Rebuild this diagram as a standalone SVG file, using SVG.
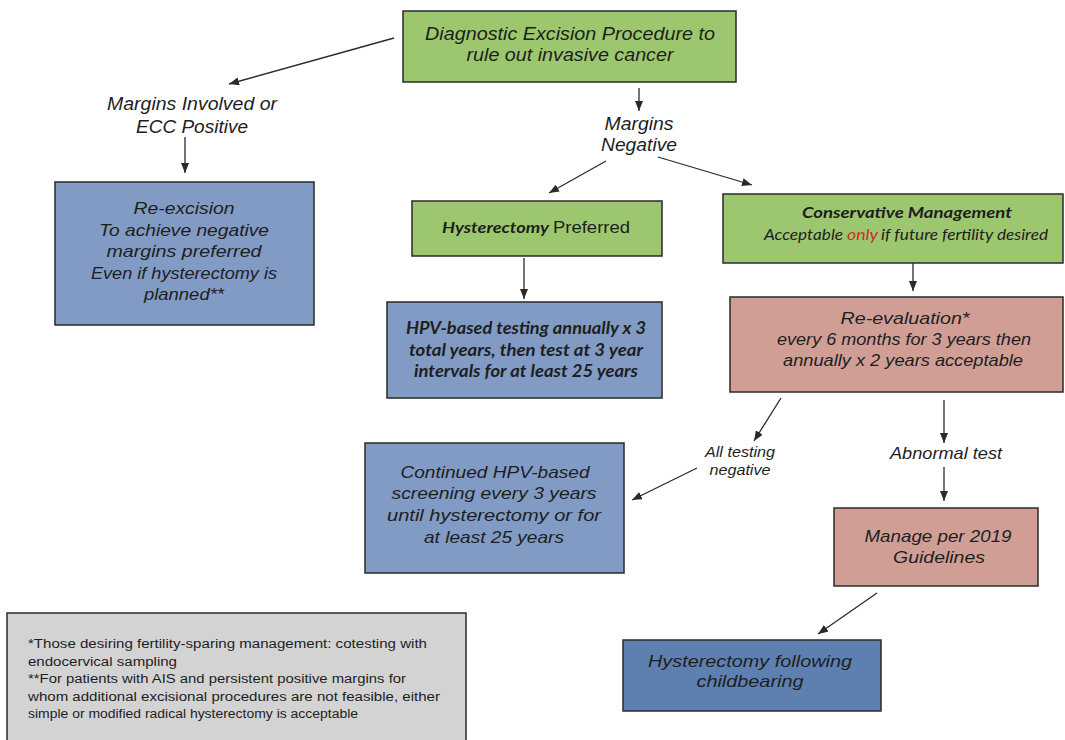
<svg xmlns="http://www.w3.org/2000/svg" width="1065" height="740" viewBox="0 0 1065 740">
<defs>
<marker id="ah" markerUnits="userSpaceOnUse" markerWidth="10" markerHeight="8" refX="10" refY="4" orient="auto">
<path d="M0,0 L10,4 L0,8 z" fill="#2a2a2a"/>
</marker>
<style>
.box{stroke:#2a2a2a;stroke-width:1.5}
.green{fill:#9dc76f}
.blue{fill:#819bc4}
.dblue{fill:#5e80b0}
.pink{fill:#d19e96}
.gray{fill:#d3d3d3}
.ai{font-family:"Liberation Sans",Arial,sans-serif;font-style:italic;fill:#1e1e1e}
.cb{font-family:Lato,"Open Sans",sans-serif;font-style:italic;font-weight:700;fill:#1e1e1e}
.ci{font-family:Lato,"Open Sans",sans-serif;font-style:italic;fill:#1e1e1e}
.ar{font-family:"Liberation Sans",Arial,sans-serif;fill:#1e1e1e}
.red{fill:#c8302a}
.c{text-anchor:middle}
.conn line{stroke:#2a2a2a;stroke-width:1.3;marker-end:url(#ah)}
</style>
</defs>
<rect width="1065" height="740" fill="#ffffff"/>

<g id="connectors" class="conn">
<line x1="394" y1="38" x2="229" y2="84"/>
<line x1="185" y1="137" x2="185" y2="173"/>
<line x1="639" y1="88" x2="639" y2="111"/>
<line x1="606" y1="161" x2="549" y2="193"/>
<line x1="658" y1="157" x2="752" y2="185"/>
<line x1="524" y1="258" x2="524" y2="299"/>
<line x1="913" y1="258" x2="913" y2="291"/>
<line x1="781" y1="398" x2="754" y2="441"/>
<line x1="697" y1="468" x2="632" y2="500"/>
<line x1="944" y1="400" x2="944" y2="443"/>
<line x1="944" y1="467" x2="944" y2="501"/>
<line x1="877" y1="593" x2="818" y2="634"/>
</g>

<g id="diagnostic">
<rect class="box green" x="403" y="11" width="333" height="71"/>
<text class="ai c" x="570" y="40" font-size="17.5" textLength="290" lengthAdjust="spacingAndGlyphs">Diagnostic Excision Procedure to</text>
<text class="ai c" x="570" y="61" font-size="17.5" textLength="207" lengthAdjust="spacingAndGlyphs">rule out invasive cancer</text>
</g>

<g id="label-margins-involved">
<text class="ai c" x="192" y="110" font-size="18" textLength="170" lengthAdjust="spacingAndGlyphs">Margins Involved or</text>
<text class="ai c" x="192" y="133" font-size="18" textLength="112" lengthAdjust="spacingAndGlyphs">ECC Positive</text>
</g>

<g id="label-margins-negative">
<text class="ai c" x="639" y="130" font-size="17.5" textLength="69" lengthAdjust="spacingAndGlyphs">Margins</text>
<text class="ai c" x="639" y="151" font-size="17.5" textLength="76" lengthAdjust="spacingAndGlyphs">Negative</text>
</g>

<g id="reexcision">
<rect class="box blue" x="55" y="182" width="259" height="143"/>
<text class="ai c" x="184" y="214" font-size="17" textLength="101" lengthAdjust="spacingAndGlyphs">Re-excision</text>
<text class="ai c" x="184" y="236" font-size="17" textLength="170" lengthAdjust="spacingAndGlyphs">To achieve negative</text>
<text class="ai c" x="184" y="257" font-size="17" textLength="155" lengthAdjust="spacingAndGlyphs">margins preferred</text>
<text class="ai c" x="184" y="279" font-size="17" textLength="186" lengthAdjust="spacingAndGlyphs">Even if hysterectomy is</text>
<text class="ai c" x="184" y="300" font-size="17" textLength="80" lengthAdjust="spacingAndGlyphs">planned**</text>
</g>

<g id="hysterectomy-preferred">
<rect class="box green" x="412" y="201" width="250" height="55"/>
<text class="cb" x="442" y="233" font-size="16" textLength="107" lengthAdjust="spacingAndGlyphs">Hysterectomy</text>
<text class="ar" x="553" y="233" font-size="17" textLength="77" lengthAdjust="spacingAndGlyphs">Preferred</text>
</g>

<g id="conservative">
<rect class="box green" x="723" y="194" width="340" height="69"/>
<text class="cb c" x="907" y="218" font-size="15.5" textLength="210" lengthAdjust="spacingAndGlyphs">Conservative Management</text>
<text class="ci" x="764" y="240" font-size="15.5" textLength="79" lengthAdjust="spacingAndGlyphs">Acceptable</text>
<text class="ci red" x="847" y="240" font-size="15.5" textLength="31" lengthAdjust="spacingAndGlyphs">only</text>
<text class="ci" x="881" y="240" font-size="15.5" textLength="167" lengthAdjust="spacingAndGlyphs">if future fertility desired</text>
</g>

<g id="hpv-testing">
<rect class="box blue" x="387" y="302" width="275" height="96"/>
<text class="cb c" x="526" y="334" font-size="16.5" textLength="240" lengthAdjust="spacingAndGlyphs">HPV-based testing annually x 3</text>
<text class="cb c" x="526" y="356" font-size="16.5" textLength="234" lengthAdjust="spacingAndGlyphs">total years, then test  at 3 year</text>
<text class="cb c" x="526" y="377" font-size="16.5" textLength="224" lengthAdjust="spacingAndGlyphs">intervals for at least 25 years</text>
</g>

<g id="reevaluation">
<rect class="box pink" x="730" y="297" width="333" height="95"/>
<text class="ai c" x="905" y="324" font-size="16.5" textLength="129" lengthAdjust="spacingAndGlyphs">Re-evaluation*</text>
<text class="ai c" x="904" y="345" font-size="16.5" textLength="254" lengthAdjust="spacingAndGlyphs">every 6 months for 3 years then</text>
<text class="ai c" x="903" y="366" font-size="16.5" textLength="240" lengthAdjust="spacingAndGlyphs">annually x 2 years acceptable</text>
</g>

<g id="label-all-negative">
<text class="ai c" x="740" y="457" font-size="15.5" textLength="70" lengthAdjust="spacingAndGlyphs">All testing</text>
<text class="ai c" x="740" y="475" font-size="15.5" textLength="61" lengthAdjust="spacingAndGlyphs">negative</text>
</g>

<g id="label-abnormal">
<text class="ai c" x="946" y="459" font-size="16.5" textLength="112" lengthAdjust="spacingAndGlyphs">Abnormal test</text>
</g>

<g id="continued-screening">
<rect class="box blue" x="365" y="443" width="259" height="130"/>
<text class="ai c" x="495" y="478" font-size="16.5" textLength="189" lengthAdjust="spacingAndGlyphs">Continued HPV-based</text>
<text class="ai c" x="494" y="499" font-size="16.5" textLength="205" lengthAdjust="spacingAndGlyphs">screening every 3 years</text>
<text class="ai c" x="494" y="521" font-size="16.5" textLength="214" lengthAdjust="spacingAndGlyphs">until hysterectomy or for</text>
<text class="ai c" x="494" y="543" font-size="16.5" textLength="140" lengthAdjust="spacingAndGlyphs">at least 25 years</text>
</g>

<g id="manage">
<rect class="box pink" x="834" y="508" width="204" height="78"/>
<text class="ai c" x="938" y="542" font-size="16.5" textLength="147" lengthAdjust="spacingAndGlyphs">Manage per 2019</text>
<text class="ai c" x="939" y="563" font-size="16.5" textLength="92" lengthAdjust="spacingAndGlyphs">Guidelines</text>
</g>

<g id="hysterectomy-childbearing">
<rect class="box dblue" x="623" y="640" width="258" height="71"/>
<text class="ai c" x="750" y="667" font-size="17" textLength="204" lengthAdjust="spacingAndGlyphs">Hysterectomy following</text>
<text class="ai c" x="750" y="687" font-size="17" textLength="107" lengthAdjust="spacingAndGlyphs">childbearing</text>
</g>

<g id="footnote">
<rect class="box gray" x="7" y="613" width="459" height="140"/>
<text class="ar" x="28" y="648" font-size="12.5" textLength="399" lengthAdjust="spacingAndGlyphs">*Those desiring fertility-sparing management: cotesting with</text>
<text class="ar" x="28" y="666" font-size="12.5" textLength="149" lengthAdjust="spacingAndGlyphs">endocervical sampling</text>
<text class="ar" x="28" y="683" font-size="12.5" textLength="378" lengthAdjust="spacingAndGlyphs">**For patients with AIS and persistent positive margins for</text>
<text class="ar" x="28" y="701" font-size="12.5" textLength="412" lengthAdjust="spacingAndGlyphs">whom additional excisional procedures are not feasible, either</text>
<text class="ar" x="28" y="718" font-size="12.5" textLength="330" lengthAdjust="spacingAndGlyphs">simple or modified radical hysterectomy is acceptable</text>
</g>
</svg>
